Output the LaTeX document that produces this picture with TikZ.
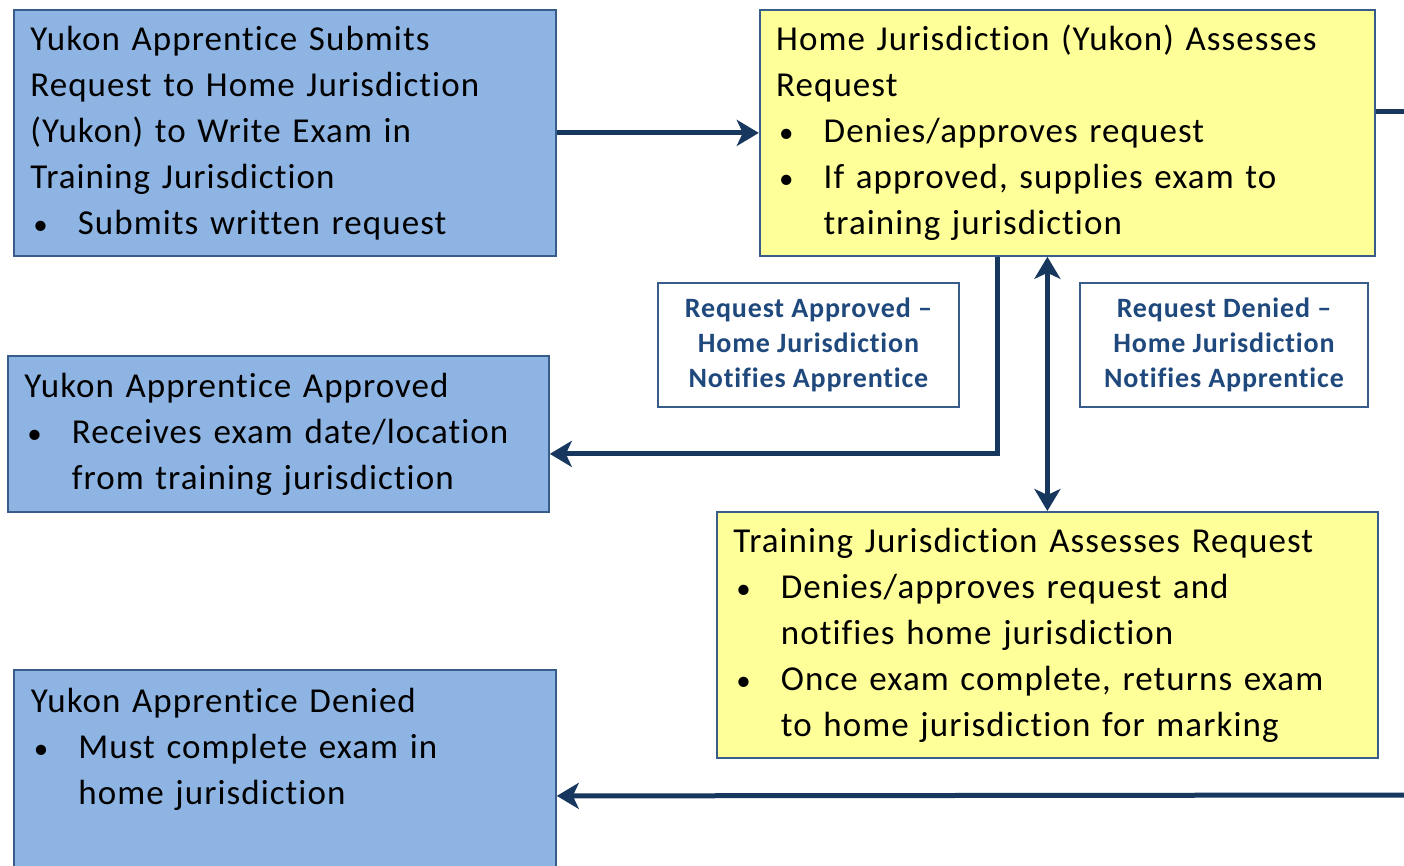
\documentclass[tikz,border=0pt]{standalone}
\usepackage{fontspec}
\setmainfont{Carlito}[LetterSpace=3, Ligatures={NoCommon}]
\usetikzlibrary{calc}
\usetikzlibrary{positioning}
\usetikzlibrary{arrows.meta}

\definecolor{boxblue}{RGB}{142,180,227}
\definecolor{boxyellow}{RGB}{255,255,153}
\definecolor{edgeblue}{RGB}{56,93,138}
\definecolor{linknavy}{RGB}{23,55,94}
\definecolor{notetext}{RGB}{31,73,125}

\newcommand{\bulpt}{\makebox[47.5pt][l]{\hspace{3pt}{\fontsize{29}{46}\selectfont •}}}
\newcommand{\bulgap}{\hspace*{47.5pt}}

\begin{document}
\begin{tikzpicture}[x=1pt, y=-1pt, >={Stealth[length=22pt, width=26pt, inset=6pt]},
    stepbox/.style={rectangle, draw=edgeblue, line width=1.8pt, inner xsep=16.5pt, inner ysep=0pt, align=left, font=\fontsize{35}{46}\selectfont, anchor=north west},
    bluebox/.style={stepbox, fill=boxblue},
    yellowbox/.style={stepbox, fill=boxyellow},
    notebox/.style={rectangle, draw=edgeblue, line width=1.5pt, fill=white, align=center, text=notetext, font=\fontsize{28}{35}\selectfont\bfseries},
    link/.style={draw=linknavy, line width=5pt}]
    \fill [white] (0,0) rectangle (1404,865);
    \useasboundingbox (0,0) rectangle (1404,865);
    \clip (0,0) rectangle (1404,865);

    \node [bluebox, minimum width=542, minimum height=246, text width=509] (A) at (13,9) {Yukon Apprentice Submits\\Request to Home Jurisdiction\\(Yukon) to Write Exam in\\Training Jurisdiction\\\bulpt Submits written request};
    \node [yellowbox, minimum width=615, minimum height=246, text width=582, right=202 of A] (B) {Home Jurisdiction (Yukon) Assesses\\Request\\\bulpt Denies/approves request\\\bulpt If approved, supplies exam to\\\bulgap training jurisdiction};
    \node [bluebox, minimum width=541, minimum height=156, text width=508] (C) at (7,355) {Yukon Apprentice Approved\\\bulpt Receives exam date/location\\\bulgap from training jurisdiction};
    \node [yellowbox, minimum width=661, minimum height=246, text width=628] (D) at (716,511) {Training Jurisdiction Assesses Request\\\bulpt Denies/approves request and\\\bulgap notifies home jurisdiction\\\bulpt Once exam complete, returns exam\\\bulgap to home jurisdiction for marking};
    \node [bluebox, minimum width=542, minimum height=252] (E) at (13,669) {};
    \node [stepbox, draw=none, text width=509, inner xsep=0pt, anchor=base west] (Etext) at (30,712) {Yukon Apprentice Denied\\\bulpt Must complete exam in\\\bulgap home jurisdiction};

    \node [notebox, minimum width=301, minimum height=124] (approved) at (808.5,345) {Request Approved --\\Home Jurisdiction\\Notifies Apprentice};
    \node [notebox, minimum width=288, minimum height=124] (denied) at (1224,345) {Request Denied --\\Home Jurisdiction\\Notifies Apprentice};

    \coordinate (rightout) at (1420,111);
    \coordinate (bottomout) at (1420,795);

    \draw [link, ->] (A) -- (B);
    \draw [link] (B.east |- rightout) -- (rightout);
    \draw [link, ->] ($(B.south)+(-69.5,0)$) |- ($(C.east)+(0,20)$);
    \draw [link, <->] (D.north |- B.south) -- (D.north);
    \draw [link, ->] (bottomout) -- (E.east);
\end{tikzpicture}
\end{document}
